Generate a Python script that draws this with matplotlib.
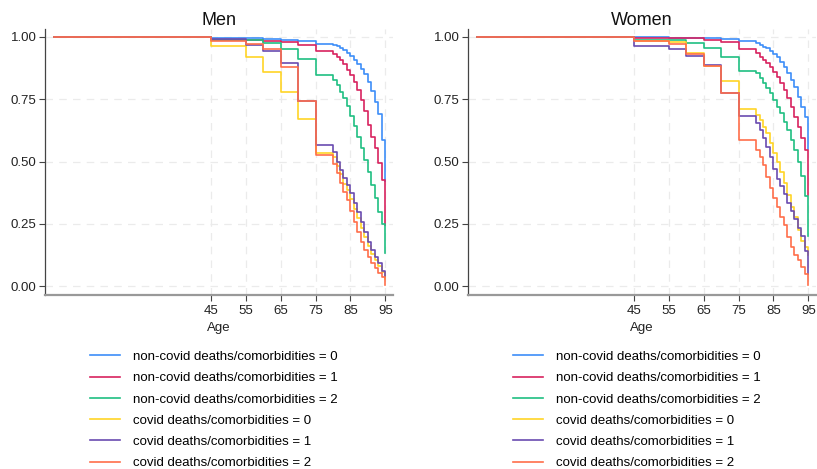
import matplotlib
matplotlib.use("Agg")
import matplotlib.pyplot as plt

plt.rcParams['font.family'] = ['Liberation Sans', 'DejaVu Sans']

# age grid of the step curves
ages = [0, 45, 55, 60, 65, 70, 75, 80, 81, 82, 83, 84, 85, 86, 87, 88, 89, 90, 91, 92, 93, 94, 95]

labels = ["non-covid deaths/comorbidities = 0",
          "non-covid deaths/comorbidities = 1",
          "non-covid deaths/comorbidities = 2",
          "covid deaths/comorbidities = 0",
          "covid deaths/comorbidities = 1",
          "covid deaths/comorbidities = 2"]

colors = ["#3d8ef8", "#d8235f", "#1fbf82", "#ffd426", "#6a4bb0", "#ff6e4a"]

# Men
men_nc0 = [1, 0.996, 0.995, 0.992, 0.988, 0.983, 0.972, 0.968, 0.962, 0.954, 0.946, 0.937,
           0.925, 0.909, 0.892, 0.873, 0.850, 0.820, 0.782, 0.740, 0.690, 0.586, 0.42]
men_nc1 = [1, 0.989, 0.986, 0.983, 0.981, 0.969, 0.942, 0.932, 0.921, 0.908, 0.890, 0.868,
           0.847, 0.821, 0.787, 0.745, 0.701, 0.646, 0.600, 0.553, 0.493, 0.426, 0.245]
men_nc2 = [1, 0.989, 0.986, 0.976, 0.953, 0.912, 0.848, 0.828, 0.808, 0.781, 0.755, 0.721,
           0.684, 0.641, 0.600, 0.553, 0.507, 0.459, 0.405, 0.352, 0.298, 0.251, 0.131]
men_c0 = [1, 0.963, 0.918, 0.861, 0.779, 0.672, 0.533, 0.52, 0.48, 0.45, 0.41, 0.385,
          0.35, 0.31, 0.275, 0.235, 0.195, 0.16, 0.13, 0.105, 0.08, 0.055, 0.03]
men_c1 = [1, 0.992, 0.969, 0.942, 0.896, 0.744, 0.566, 0.54, 0.499, 0.466, 0.432, 0.406,
          0.372, 0.332, 0.298, 0.258, 0.218, 0.178, 0.145, 0.118, 0.091, 0.06, 0.04]
men_c2 = [1, 0.985, 0.973, 0.953, 0.880, 0.744, 0.526, 0.49, 0.452, 0.412, 0.378, 0.345,
          0.30, 0.258, 0.218, 0.178, 0.145, 0.118, 0.091, 0.071, 0.051, 0.038, 0.004]

# Women
women_nc0 = [1, 0.998, 0.997, 0.996, 0.994, 0.992, 0.985, 0.975, 0.968, 0.961, 0.955, 0.945,
             0.932, 0.918, 0.901, 0.881, 0.854, 0.827, 0.80, 0.76, 0.72, 0.68, 0.55]
women_nc1 = [1, 0.996, 0.995, 0.994, 0.989, 0.980, 0.952, 0.934, 0.921, 0.908, 0.894, 0.881,
             0.861, 0.841, 0.814, 0.787, 0.754, 0.720, 0.680, 0.640, 0.593, 0.546, 0.364]
women_nc2 = [1, 0.989, 0.987, 0.976, 0.956, 0.918, 0.865, 0.854, 0.834, 0.814, 0.794, 0.774,
             0.747, 0.720, 0.694, 0.660, 0.627, 0.586, 0.546, 0.50, 0.44, 0.36, 0.20]
women_c0 = [1, 0.985, 0.980, 0.936, 0.885, 0.822, 0.71, 0.686, 0.666, 0.640, 0.613, 0.575,
            0.535, 0.499, 0.459, 0.412, 0.365, 0.319, 0.278, 0.225, 0.18, 0.155, 0.125]
women_c1 = [1, 0.965, 0.952, 0.925, 0.887, 0.774, 0.683, 0.655, 0.625, 0.595, 0.56, 0.52,
            0.47, 0.43, 0.40, 0.37, 0.335, 0.30, 0.27, 0.235, 0.20, 0.14, 0.05]
women_c2 = [1, 0.983, 0.972, 0.932, 0.882, 0.774, 0.586, 0.546, 0.52, 0.486, 0.439, 0.392,
            0.352, 0.319, 0.278, 0.245, 0.198, 0.158, 0.125, 0.104, 0.078, 0.05, 0.004]

xticks = [45, 55, 65, 75, 85, 95]
yticks = [0, 0.25, 0.5, 0.75, 1.0]

panels = [
    ("Men", [men_nc0, men_nc1, men_nc2, men_c0, men_c1, men_c2], 45),
    ("Women", [women_nc0, women_nc1, women_nc2, women_c0, women_c1, women_c2], 468),
]

fig = plt.figure(figsize=(8.17, 4.69), dpi=100, facecolor='white')
W, H = 817, 469

for title, series, left_px in panels:
    ax = fig.add_axes([left_px / W, 1 - 295 / H, 348 / W, 266 / H])
    for vals, col, lab in zip(series, colors, labels):
        ax.plot(ages, vals, drawstyle='steps-post', color=col, lw=1.2, label=lab)

    ax.set_xlim(-2.6, 97.2)
    ax.set_ylim(-0.036, 1.032)
    ax.set_xticks(xticks)
    ax.set_yticks(yticks)
    ax.set_yticklabels(["0.00", "0.25", "0.50", "0.75", "1.00"])
    ax.grid(True, color='#ebebeb', linestyle=(0, (6, 5)), linewidth=0.9)
    ax.set_axisbelow(True)

    for s in ['top', 'right']:
        ax.spines[s].set_visible(False)
    ax.spines['left'].set_color('#444444')
    ax.spines['left'].set_linewidth(0.9)
    ax.spines['bottom'].set_color('#999999')
    ax.spines['bottom'].set_linewidth(1.6)
    ax.tick_params(axis='both', labelsize=9.5, colors='#222222', length=4, width=0.8)
    ax.tick_params(axis='x', pad=3, color='#444444')
    ax.tick_params(axis='y', pad=2, color='#444444')

    ax.set_title(title, fontsize=13, color='#111111', pad=3)
    ax.set_xlabel("Age", fontsize=9.5, color='#222222', labelpad=4)

    ax.legend(loc='upper left', bbox_to_anchor=((left_px + 33) / W, 1 - 339 / H),
              bbox_transform=fig.transFigure, frameon=False, fontsize=9.5,
              handlelength=2.3, handletextpad=0.95, labelspacing=0.68,
              borderpad=0.4)

fig.savefig("out.png", dpi=100, facecolor='white')
